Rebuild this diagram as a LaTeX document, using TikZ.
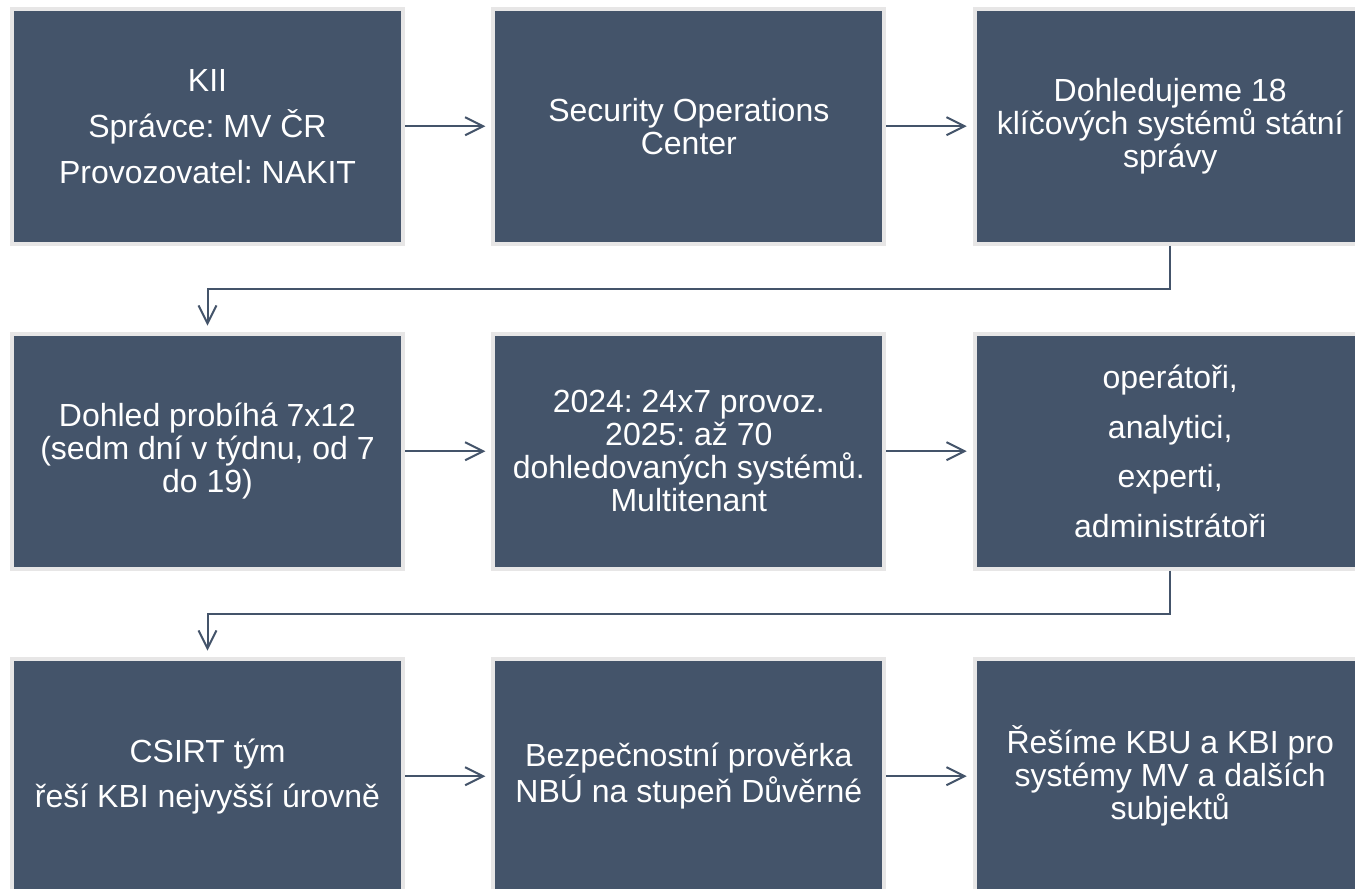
\documentclass[tikz,border=0pt]{standalone}
\usepackage{fontspec}
\setmainfont{Liberation Sans}
\usetikzlibrary{arrows.meta}
\definecolor{slate}{HTML}{44546A}
\definecolor{rim}{HTML}{E7E6E6}
\frenchspacing
\begin{document}
\begin{tikzpicture}[x=0.75pt,y=-0.75pt,
  card/.style={draw=rim, line width=3pt, fill=slate, text=white,
    minimum width=293.25pt, minimum height=176.25pt, inner sep=0pt,
    align=center, font=\fontsize{24}{24.75}\selectfont\frenchspacing},
  flow/.style={draw=slate, line width=1.5pt,
    -{Straight Barb[length=13.5pt,width=13.5pt]}, shorten >=4.5pt}]
\useasboundingbox (0,0) rectangle (1355,888);
\fill[white] (0,0) rectangle (1355,888);
\clip (0,0) rectangle (1355,888);
% row 1
\node[card] (b1) at (207.5,126.2) {KII\\[9.75pt]Správce: MV ČR\\[9.75pt]Provozovatel: NAKIT};
\node[card] (b2) at (688.85,126.2) {Security Operations\\Center};
\node[card] (b3) at (1170.2,126.2) {Dohledujeme 18\\klíčových systémů státní\\správy};
% row 2
\node[card] (b4) at (207.5,451.2) {Dohled probíhá 7x12\\(sedm dní v týdnu, od 7\\do 19)};
\node[card] (b5) at (688.85,451.2) {2024: 24x7 provoz.\\2025: až 70\\dohledovaných systémů.\\Multitenant};
\node[card] (b6) at (1170.2,451.2) {operátoři,\\[12.4pt]analytici,\\[12.4pt]experti,\\[12.4pt]administrátoři};
% row 3
\node[card] (b7) at (207.5,776.2) {CSIRT tým\\[9pt]řeší KBI nejvyšší úrovně};
\node[card] (b8) at (688.85,776.2) {Bezpečnostní prověrka\\NBÚ na stupeň Důvěrné};
\node[card] (b9) at (1170.2,776.2) {Řešíme KBU a KBI pro\\systémy MV a dalších\\subjektů};
% connectors
\draw[flow] (b1) -- (b2);
\draw[flow] (b2) -- (b3);
\draw[flow] (b4) -- (b5);
\draw[flow] (b5) -- (b6);
\draw[flow] (b7) -- (b8);
\draw[flow] (b8) -- (b9);
\draw[flow] (b3.south) -- ++(0,42.8) -| (b4.north);
\draw[flow] (b6.south) -- ++(0,42.8) -| (b7.north);
\end{tikzpicture}
\end{document}
